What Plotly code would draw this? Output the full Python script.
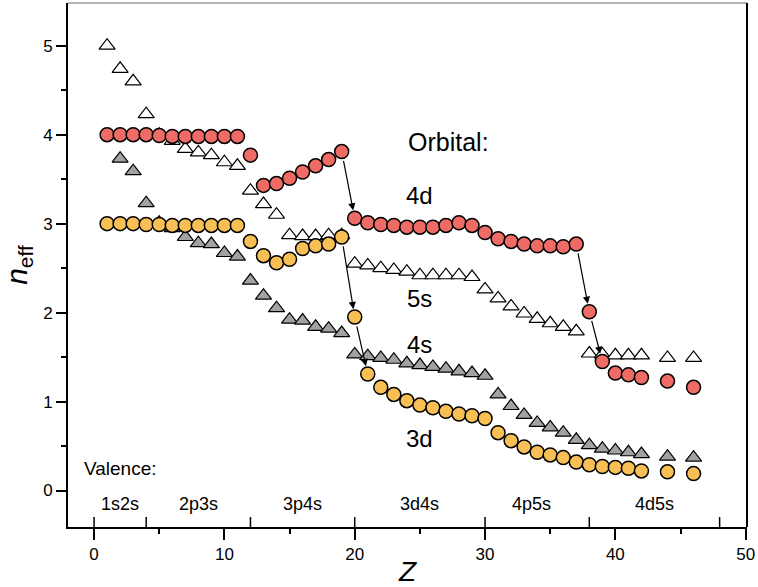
import plotly.graph_objects as go

# atomic number of each point (Z = 43 and 45 are missing)
Z = list(range(1, 43)) + [44, 46]

# effective principal quantum number per orbital
n_4d = [4.00, 4.00, 4.00, 4.00, 3.99, 3.98, 3.98, 3.98, 3.98, 3.98, 3.98,
        3.77, 3.43, 3.45, 3.51, 3.58, 3.65, 3.72, 3.81,
        3.06, 3.01, 2.99, 2.98, 2.96, 2.96, 2.96, 2.98, 3.01, 2.98,
        2.90, 2.83, 2.80, 2.77, 2.75, 2.75, 2.74, 2.77, 2.01, 1.45,
        1.32, 1.30, 1.27, 1.23, 1.16]
n_3d = [3.00, 3.00, 3.00, 2.99, 2.99, 2.98, 2.98, 2.98, 2.98, 2.98, 2.98,
        2.80, 2.64, 2.56, 2.60, 2.72, 2.75, 2.77, 2.85,
        1.95, 1.31, 1.16, 1.08, 1.01, 0.96, 0.93, 0.89, 0.86, 0.84,
        0.81, 0.65, 0.56, 0.49, 0.43, 0.40, 0.37, 0.32, 0.29, 0.27,
        0.26, 0.25, 0.22, 0.21, 0.19]
n_5s = [5.00, 4.74, 4.60, 4.23, 4.00, 3.93, 3.84, 3.80, 3.77, 3.69, 3.65,
        3.37, 3.22, 3.10, 2.87, 2.86, 2.86, 2.87, 2.87,
        2.55, 2.53, 2.50, 2.48, 2.46, 2.42, 2.42, 2.42, 2.42, 2.40,
        2.26, 2.16, 2.07, 1.99, 1.93, 1.88, 1.84, 1.79, 1.54, 1.53,
        1.52, 1.52, 1.52, 1.49, 1.49]
n_4s = [None, 3.73, 3.59, 3.23, 3.01, 2.95, 2.85, 2.78, 2.77, 2.67, 2.63,
        2.36, 2.19, 2.05, 1.92, 1.91, 1.84, 1.82, 1.77,
        1.53, 1.51, 1.49, 1.47, 1.43, 1.41, 1.39, 1.37, 1.34, 1.32,
        1.29, 1.08, 0.95, 0.85, 0.76, 0.71, 0.65, 0.57, 0.51, 0.47,
        0.45, 0.43, 0.41, 0.38, 0.37]

# valence shells along the Z axis
shell_edges = [0, 4, 12, 20, 30, 38, 48]
shell_labels = ["1s2s", "2p3s", "3p4s", "3d4s", "4p5s", "4d5s"]
shell_label_x = [2, 8, 16, 25, 33.6, 43]

# arrows marking jumps (series, from Z, to Z)
jumps = [("4d", 19, 20), ("3d", 19, 20), ("3d", 20, 21),
         ("4d", 37, 38), ("4d", 38, 39)]

# orbital labels
orbital_names = ["4d", "5s", "4s", "3d"]
orbital_y = [3.32, 2.16, 1.64, 0.59]

series = {"4d": n_4d, "3d": n_3d, "5s": n_5s, "4s": n_4s}

FONT = "Liberation Sans, Arial, sans-serif"
RED = "#EE6B66"
ORANGE = "#F8BF55"
GRAY = "#A2A2A2"

fig = go.Figure()

tri = dict(symbol="triangle-up", size=14, line=dict(color="black", width=1.2))
fig.add_trace(go.Scatter(x=Z, y=n_5s, mode="markers",
                         marker=dict(color="white", **tri)))
fig.add_trace(go.Scatter(x=Z, y=n_4s, mode="markers",
                         marker=dict(color=GRAY, **tri)))

circ = dict(symbol="circle", size=14, line=dict(color="black", width=1.5))
fig.add_trace(go.Scatter(x=Z, y=n_3d, mode="markers",
                         marker=dict(color=ORANGE, **circ)))
fig.add_trace(go.Scatter(x=Z, y=n_4d, mode="markers",
                         marker=dict(color=RED, **circ)))

# jump arrows
for name, z0, z1 in jumps:
    vals = series[name]
    fig.add_annotation(x=z1, y=vals[Z.index(z1)], ax=z0, ay=vals[Z.index(z0)],
                       xref="x", yref="y", axref="x", ayref="y", text="",
                       showarrow=True, arrowhead=2, arrowsize=1.2, arrowwidth=1.2,
                       arrowcolor="black", standoff=8, startstandoff=8)

# orbital labels
fig.add_annotation(x=27.2, y=3.92, text="Orbital:", showarrow=False,
                   font=dict(size=25, family=FONT, color="black"))
for name, yv in zip(orbital_names, orbital_y):
    fig.add_annotation(x=25, y=yv, text=name, showarrow=False,
                       font=dict(size=24, family=FONT, color="black"))

# valence labels
fig.add_annotation(x=-0.9, y=0.25, text="Valence:", showarrow=False, xanchor="left",
                   font=dict(size=19, family=FONT, color="black"))
for lab, xv in zip(shell_labels, shell_label_x):
    fig.add_annotation(x=xv, y=-0.15, text=lab, showarrow=False,
                       font=dict(size=18, family=FONT, color="black"))

# shell separator ticks rising from the Z axis
for e in shell_edges:
    fig.add_shape(type="line", x0=e, x1=e, y0=0, y1=0.019, xref="x", yref="paper",
                  line=dict(color="black", width=1.5))

# top frame line
fig.add_shape(type="line", x0=0, x1=1, y0=1, y1=1, xref="paper", yref="paper",
              line=dict(color="#9a9a9a", width=1.5))
# right frame line
fig.add_shape(type="line", x0=1, x1=1, y0=0, y1=1, xref="paper", yref="paper",
              line=dict(color="black", width=2))

fig.update_layout(
    width=758, height=587,
    margin=dict(l=68, r=9, t=3, b=58),
    paper_bgcolor="white", plot_bgcolor="white",
    showlegend=False,
    font=dict(family=FONT, size=17, color="black"),
)
fig.update_xaxes(
    range=[-2, 50.1], tickvals=[0, 10, 20, 30, 40, 50],
    ticks="outside", ticklen=11, tickwidth=1.5, tickcolor="black",
    minor=dict(tickvals=[5, 15, 25, 35, 45], ticks="outside", ticklen=5,
               tickwidth=1.5, tickcolor="black"),
    showline=True, linecolor="black", linewidth=2,
    showgrid=False, zeroline=False,
    ticklabeloverflow="allow",
    tickfont=dict(size=17),
    title=dict(text="<i>Z</i>", font=dict(size=28), standoff=0),
)
fig.update_yaxes(
    range=[-0.41, 5.48], tickvals=[0, 1, 2, 3, 4, 5],
    ticks="outside", ticklen=10, tickwidth=1.5, tickcolor="black",
    minor=dict(tickvals=[0.5, 1.5, 2.5, 3.5, 4.5], ticks="outside", ticklen=5,
               tickwidth=1.5, tickcolor="black"),
    showline=True, linecolor="black", linewidth=2,
    showgrid=False, zeroline=False,
    tickfont=dict(size=17),
    title=dict(text="<i>n</i><sub>eff</sub>", font=dict(size=30), standoff=10),
)

fig.write_html("out.html", config={"displayModeBar": False},
               post_script="document.body.style.margin='0';")
